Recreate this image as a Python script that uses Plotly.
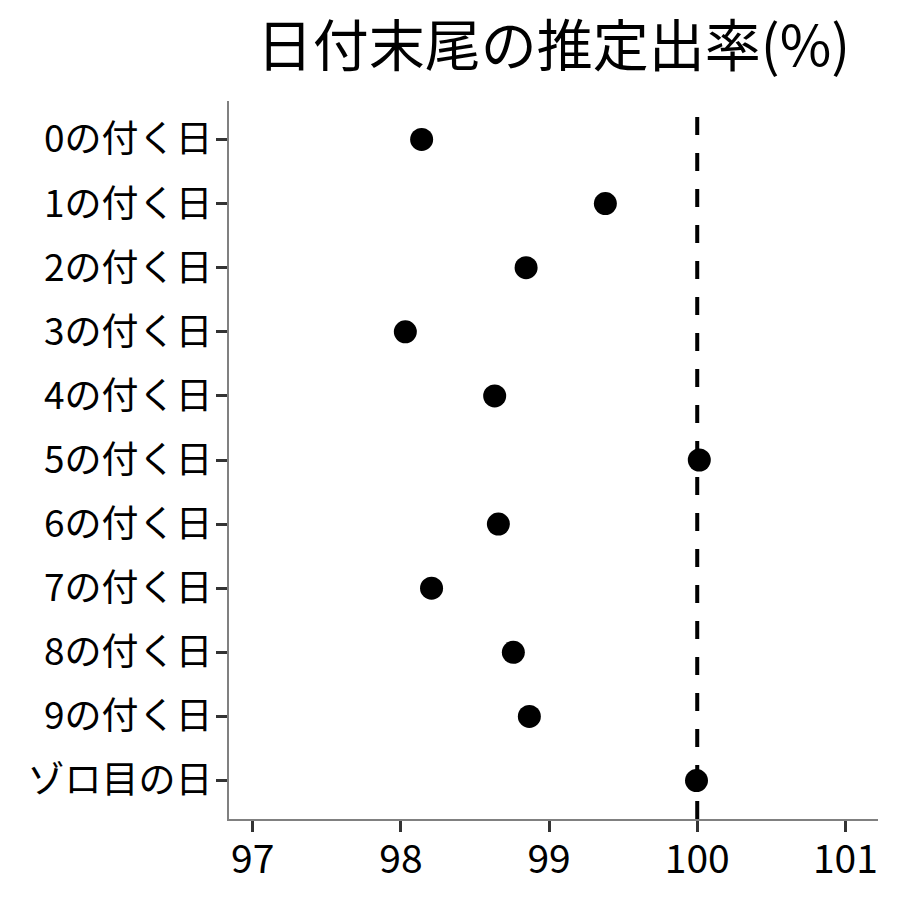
import plotly.graph_objects as go

categories = ["0の付く日", "1の付く日", "2の付く日", "3の付く日", "4の付く日",
              "5の付く日", "6の付く日", "7の付く日", "8の付く日", "9の付く日", "ゾロ目の日"]
values = [98.14, 99.38, 98.845, 98.03, 98.633, 100.014, 98.658, 98.207, 98.759, 98.867, 99.995]
x_ticks = [97, 98, 99, 100, 101]
reference_value = 100
title_text = "日付末尾の推定出率(%)"

FONT = "Noto Sans CJK JP"

fig = go.Figure()
fig.add_trace(go.Scatter(
    x=values, y=categories, mode="markers",
    marker=dict(size=23, color="black"),
    showlegend=False, cliponaxis=False,
))
fig.add_shape(type="line", xref="x", yref="paper",
              x0=reference_value, x1=reference_value, y0=0, y1=1,
              line=dict(color="black", width=4, dash="18px,18px"))

fig.update_layout(
    width=900, height=900,
    paper_bgcolor="white", plot_bgcolor="white",
    margin=dict(l=229, r=900 - 878, t=101, b=900 - 819),
    font=dict(family=FONT, color="black"),
    title=dict(text=title_text, x=((229 + 878) / 2) / 900, xanchor="center",
               y=1 - 46 / 900, yanchor="middle",
               font=dict(size=56, family=FONT, color="black")),
)
fig.update_xaxes(
    range=[96.84, 101.22], tickvals=x_ticks, ticktext=[str(t) for t in x_ticks],
    showgrid=False, zeroline=False, automargin=False,
    showline=True, linecolor="#808080", linewidth=2,
    ticks="outside", ticklen=11, tickwidth=3, tickcolor="#333333",
    tickfont=dict(size=39, family=FONT, color="black"),
    ticklabelstandoff=-6,
)
fig.update_yaxes(
    type="category", categoryorder="array", categoryarray=categories,
    range=[10.6, -0.6], automargin=False,
    showgrid=False, zeroline=False,
    showline=True, linecolor="#808080", linewidth=2,
    ticks="outside", ticklen=11, tickwidth=3, tickcolor="#333333",
    tickfont=dict(size=37, family=FONT, color="black"),
    ticklabelstandoff=-4,
)

fig.write_html("out.html", config={"displayModeBar": False},
               post_script="document.body.style.margin='0';")
